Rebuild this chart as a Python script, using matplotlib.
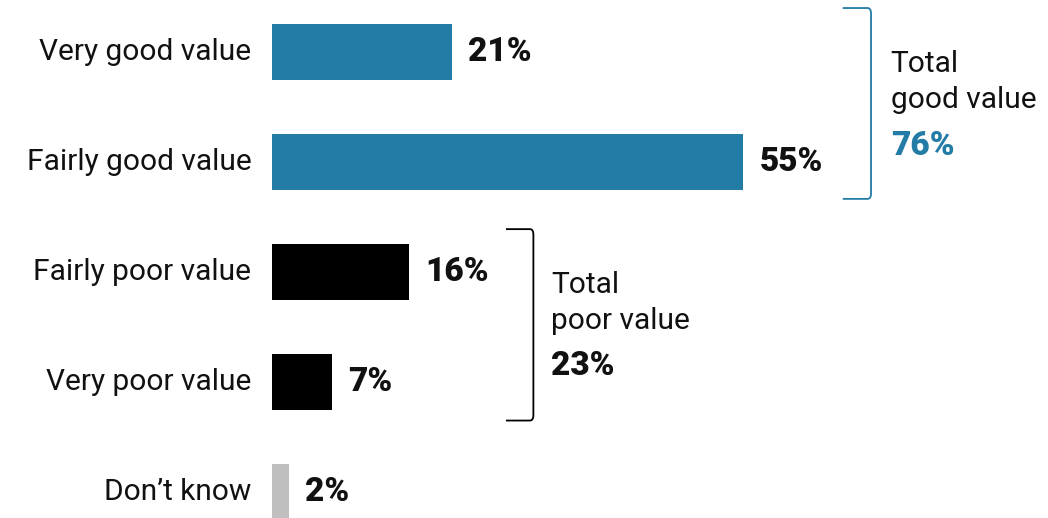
import matplotlib.pyplot as plt
from matplotlib.path import Path
from matplotlib.patches import PathPatch

categories = ['Very good value', 'Fairly good value', 'Fairly poor value',
              'Very poor value', "Don\u2019t know"]
values = [21, 55, 16, 7, 2]
colors = ['#237ca6', '#237ca6', '#000000', '#000000', '#bfbfbf']
total_good = 76
total_poor = 23

plt.rcParams['font.family'] = ['Roboto', 'DejaVu Sans']

fig = plt.figure(figsize=(10.48, 5.18), dpi=100)
ax = fig.add_axes([272 / 1048, 0, 776 / 1048, 1])
ax.set_xlim(0, 776 / 8.57)
ax.set_ylim(4.236, -0.473)
ax.axis('off')

ypos = list(range(len(values)))
ax.barh(ypos, values, height=0.51, color=colors)
for y, v, lab in zip(ypos, values, categories):
    ax.text(-2.4, y, lab, ha='right', va='center', fontsize=21.5, color='#111111')
    ax.text(v + 1.9, y, f'{v}%', ha='left', va='center', fontsize=24,
            fontweight='black', color='#111111')


def bracket(x0, x1, y0, y1, color):
    verts = [(x0, y0), (x1 - 0.4, y0), (x1, y0), (x1, y0 + 0.05),
             (x1, y1 - 0.05), (x1, y1), (x1 - 0.4, y1), (x0, y1)]
    codes = [Path.MOVETO, Path.LINETO, Path.CURVE3, Path.CURVE3,
             Path.LINETO, Path.CURVE3, Path.CURVE3, Path.LINETO]
    ax.add_patch(PathPatch(Path(verts, codes), fill=False, lw=1.3,
                           edgecolor=color, clip_on=False))


bracket(66.6, 69.9, -0.40, 1.335, '#237ca6')
bracket(27.3, 30.5, 1.61, 3.35, '#000000')

ax.text(72.2, 0.27, 'Total\ngood value', ha='left', va='center', fontsize=21.5,
        color='#111111', linespacing=1.35)
ax.text(72.2, 0.85, f'{total_good}%', ha='left', va='center', fontsize=24,
        fontweight='black', color='#237ca6')
ax.text(32.6, 2.28, 'Total\npoor value', ha='left', va='center', fontsize=21.5,
        color='#111111', linespacing=1.35)
ax.text(32.6, 2.85, f'{total_poor}%', ha='left', va='center', fontsize=24,
        fontweight='black', color='#111111')

fig.savefig('out.png', dpi=100)
